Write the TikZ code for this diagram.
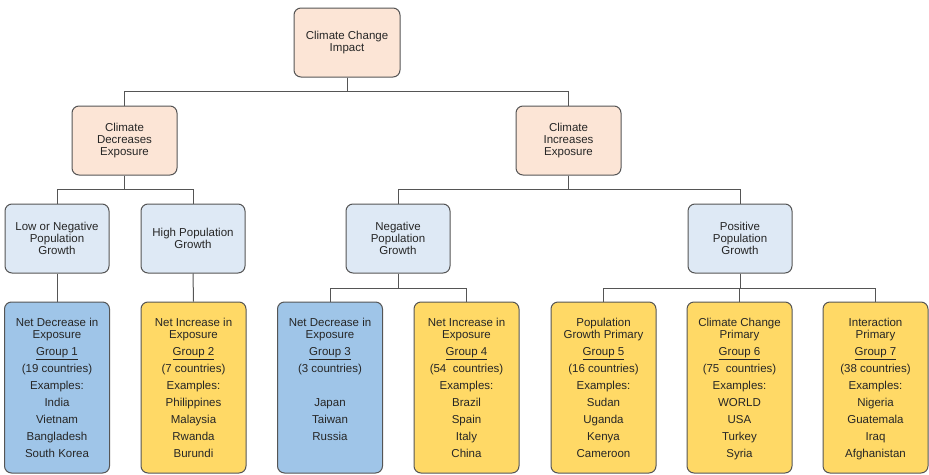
\documentclass[tikz,border=0pt]{standalone}
\usepackage{fontspec}
\setmainfont{Liberation Sans}
\definecolor{peach}{HTML}{FCE5D6}
\definecolor{paleblue}{HTML}{DEE9F5}
\definecolor{midblue}{HTML}{9FC5E8}
\definecolor{gold}{HTML}{FFD966}
\definecolor{edge}{HTML}{555555}
\tikzset{
  box/.style={draw=edge, line width=1pt, rounded corners=7pt, align=center,
    inner sep=0pt, minimum width=105, minimum height=69,
    font=\fontsize{11.5}{12}\selectfont, text=black!85},
  grpbox/.style={box, minimum height=171, font=\fontsize{11.5}{17}\selectfont,
    text depth=0pt},
  link/.style={draw=edge, line width=1pt}
}
\begin{document}
\begin{tikzpicture}[x=1pt,y=-1pt]
        \useasboundingbox (0,0) rectangle (929,474);
        % top levels
        \node[box,fill=peach,minimum width=106] (top) at (347,42.5) {Climate Change\\Impact};
        \node[box,fill=peach] (dec) at (124.5,140.5) {Climate\\Decreases\\Exposure};
        \node[box,fill=peach] (inc) at (568.5,140.5) {Climate\\Increases\\Exposure};
        \node[box,fill=paleblue,minimum width=104] (low) at (57,238.5) {Low or Negative\\Population\\Growth};
        \node[box,fill=paleblue,minimum width=104] (high) at (193,238.5) {High Population\\Growth};
        \node[box,fill=paleblue,minimum width=104] (neg) at (398,238.5) {Negative\\Population\\Growth};
        \node[box,fill=paleblue,minimum width=104] (pos) at (740,238.5) {Positive\\Population\\Growth};
        % groups
        \node[grpbox,fill=midblue] (g1) at (57,387.5) {Net Decrease in\\[-5pt]Exposure\\\underline{Group 1}\\(19 countries)\\Examples:\\India\\Vietnam\\Bangladesh\\South Korea};
        \node[grpbox,fill=gold] (g2) at (193.5,387.5) {Net Increase in\\[-5pt]Exposure\\\underline{Group 2}\\(7 countries)\\Examples:\\Philippines\\Malaysia\\Rwanda\\Burundi};
        \node[grpbox,fill=midblue] (g3) at (330,387.5) {Net Decrease in\\[-5pt]Exposure\\\underline{Group 3}\\(3 countries)\\\mbox{}\\Japan\\Taiwan\\Russia\\\mbox{}};
        \node[grpbox,fill=gold] (g4) at (466.5,387.5) {Net Increase in\\[-5pt]Exposure\\\underline{Group 4}\\(54~ countries)\\Examples:\\Brazil\\Spain\\Italy\\China};
        \node[grpbox,fill=gold] (g5) at (603.5,387.5) {Population\\[-5pt]Growth Primary\\\underline{Group 5}\\(16 countries)\\Examples:\\Sudan\\Uganda\\Kenya\\Cameroon};
        \node[grpbox,fill=gold] (g6) at (739.5,387.5) {Climate Change\\[-5pt]Primary\\\underline{Group 6}\\(75~ countries)\\Examples:\\WORLD\\USA\\Turkey\\Syria};
        \node[grpbox,fill=gold] (g7) at (875.5,387.5) {Interaction\\[-5pt]Primary\\\underline{Group 7}\\(38 countries)\\Examples:\\Nigeria\\Guatemala\\Iraq\\Afghanistan};
        % connectors
        \foreach \c in {dec,inc}
        \draw[link] (top.south) -- ++(0,14) -| (\c.north);
        \foreach \c in {low,high}
        \draw[link] (dec.south) -- ++(0,14) -| (\c.north);
        \foreach \c in {neg,pos}
        \draw[link] (inc.south) -- ++(0,14) -| (\c.north);
        \draw[link] (low.south) -- (g1.north);
        \draw[link] (high.south) -- (g2.north);
        \foreach \c in {g3,g4}
        \draw[link] (neg.south) -- ++(0,15) -| (\c.north);
        \foreach \c in {g5,g6,g7}
        \draw[link] (pos.south) -- ++(0,15) -| (\c.north);
        \end{tikzpicture}
\end{document}
